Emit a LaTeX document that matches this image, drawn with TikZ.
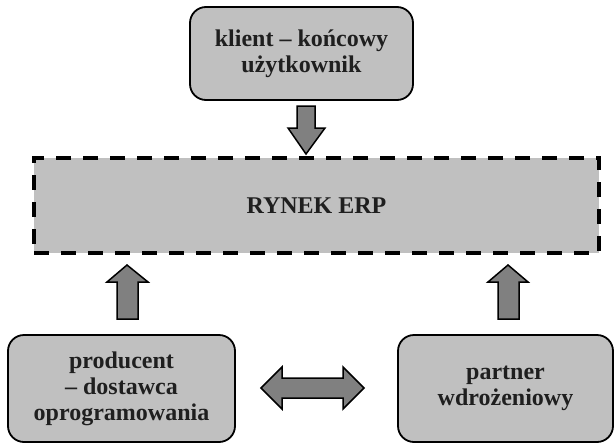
\documentclass[tikz,border=0pt]{standalone}
\usepackage{fontspec}
\setmainfont{Liberation Serif}
\begin{document}
\begin{tikzpicture}[x=1pt,y=-1pt,
  txt/.style={font=\fontsize{24}{26}\selectfont\bfseries, text=black!88, align=center, inner sep=0pt},
  actor/.style={txt, draw=black, line width=1.8pt, fill=boxgray, rounded corners=16pt},
  market/.style={txt, draw=black, line width=4pt, dash pattern=on 15pt off 12pt, fill=boxgray},
  blockarrow/.style={draw=black, line width=1.5pt, fill=arrowgray, line join=miter}
]
\definecolor{boxgray}{RGB}{192,192,192}
\definecolor{arrowgray}{RGB}{128,128,128}
\useasboundingbox (0,0) rectangle (615,444);

\node[actor, minimum width=223pt, minimum height=93pt] (client) at (301.5,53.5) {klient -- końcowy\\użytkownik};
\node[market, minimum width=565pt, minimum height=95pt] (rynek) at (316.5,205.5) {RYNEK ERP};
\node[actor, minimum width=227pt, minimum height=107pt] (prod) at (121.5,388.5) {producent\\-- dostawca\\oprogramowania};
\node[actor, minimum width=215pt, minimum height=107pt] (partner) at (505.5,388.5) {partner\\wdrożeniowy};

% down arrow client -> rynek
\draw[blockarrow] (297,106) -- (315,106) -- (315,128) -- (325,128) -- (306,154) -- (288,128) -- (297,128) -- cycle;
% up arrow prod -> rynek
\draw[blockarrow] (117,319) -- (138,319) -- (138,282) -- (148,282) -- (127,265) -- (107,282) -- (117,282) -- cycle;
% up arrow partner -> rynek
\draw[blockarrow] (498,319) -- (519,319) -- (519,282) -- (528,282) -- (508,265) -- (488,282) -- (498,282) -- cycle;
% double arrow prod <-> partner
\draw[blockarrow] (261,388) -- (282,367) -- (282,378) -- (343,378) -- (343,367) -- (364,388) -- (343,409) -- (343,398) -- (282,398) -- (282,409) -- cycle;
\end{tikzpicture}
\end{document}
